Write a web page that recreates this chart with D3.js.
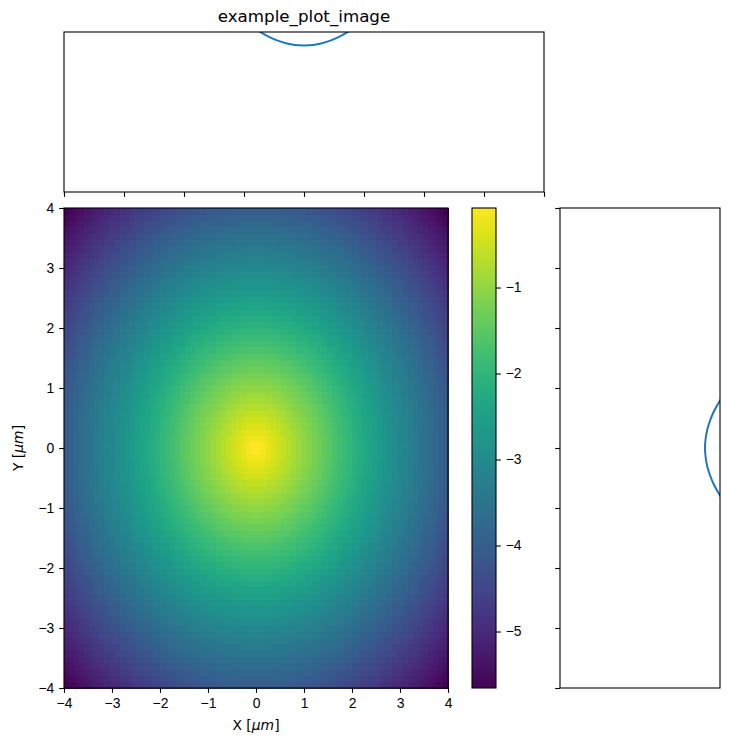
<!DOCTYPE html>
<html>
<head>
<meta charset="utf-8">
<script src="https://cdn.jsdelivr.net/npm/d3@7"></script>
<style>
  body { margin: 0; background: #fff; }
  svg { font-family: "DejaVu Sans", sans-serif; }
  .tick text { font-size: 13.9px; fill: #000; }
  .tick line { stroke: #000; stroke-width: 1.1; }
  .domain { display: none; }
</style>
</head>
<body>
<svg id="chart"></svg>
<script>
const width = 729;
const height = 745;

// image grid (value falls off like -r, about 76 cells per side)
const gridN = 76;
const extent = [-4, 4];
const slopeR = 1.0;

// axis ticks
const xTicks = [-4, -3, -2, -1, 0, 1, 2, 3, 4];
const yTicks = [-4, -3, -2, -1, 0, 1, 2, 3, 4];
const cbTicks = [-5, -4, -3, -2, -1];

// profile curves (top: along x, right: along y)
const topX = [-0.9, -0.75, -0.6, -0.45, -0.3, -0.15, 0, 0.15, 0.3, 0.45, 0.6, 0.75, 0.9];
const topV = [1.044, 1.005, 0.973, 0.948, 0.930, 0.919, 0.916, 0.919, 0.930, 0.948, 0.973, 1.005, 1.044];
const rightY = [-0.9, -0.75, -0.6, -0.45, -0.3, -0.15, 0, 0.15, 0.3, 0.45, 0.6, 0.75, 0.9];
const rightV = [1.028, 0.991, 0.960, 0.937, 0.920, 0.910, 0.906, 0.910, 0.920, 0.937, 0.960, 0.991, 1.028];

const svg = d3.select("#chart")
  .attr("width", width)
  .attr("height", height);

// panel boxes
const mainBox = { x0: 64, x1: 448, y0: 208, y1: 688 };
const topBox = { x0: 64, x1: 544, y0: 32, y1: 192 };
const sideBox = { x0: 560, x1: 720, y0: 208, y1: 688 };
const cbBox = { x0: 472, x1: 496, y0: 208, y1: 688 };

const x = d3.scaleLinear().domain(extent).range([mainBox.x0, mainBox.x1]);
const y = d3.scaleLinear().domain(extent).range([mainBox.y1, mainBox.y0]);

// build the grid
const step = (extent[1] - extent[0]) / (gridN - 1);
const cells = [];
for (let i = 0; i < gridN; i++) {
  for (let j = 0; j < gridN; j++) {
    const gx = extent[0] + i * step;
    const gy = extent[0] + j * step;
    cells.push({ i, j, v: -slopeR * Math.sqrt(gx * gx + gy * gy) });
  }
}
const vExt = d3.extent(cells, d => d.v);
const color = d3.scaleSequential(d3.interpolateViridis).domain(vExt);

const cx = d3.scaleLinear().domain([0, gridN]).range([mainBox.x0, mainBox.x1]);
const cy = d3.scaleLinear().domain([0, gridN]).range([mainBox.y1, mainBox.y0]);

svg.append("g")
  .attr("shape-rendering", "crispEdges")
  .selectAll("rect")
  .data(cells)
  .join("rect")
  .attr("x", d => cx(d.i))
  .attr("y", d => cy(d.j + 1))
  .attr("width", cx(1) - cx(0) + 0.5)
  .attr("height", cy(0) - cy(1) + 0.5)
  .attr("fill", d => color(d.v));

function frame(b) {
  svg.append("rect")
    .attr("x", b.x0).attr("y", b.y0)
    .attr("width", b.x1 - b.x0).attr("height", b.y1 - b.y0)
    .attr("fill", "none").attr("stroke", "#000").attr("stroke-width", 1.1);
}

const tl = 4.86;
const fmt = d => d < 0 ? "\u2212" + Math.abs(d) : String(d);

// main axes
svg.append("g")
  .attr("transform", `translate(0,${mainBox.y1})`)
  .call(d3.axisBottom(x).tickValues(xTicks).tickSize(tl).tickPadding(4.86).tickFormat(fmt));
svg.append("g")
  .attr("transform", `translate(${mainBox.x0},0)`)
  .call(d3.axisLeft(y).tickValues(yTicks).tickSize(tl).tickPadding(4.86).tickFormat(fmt));
frame(mainBox);

// axis labels
const xl = svg.append("text")
  .attr("x", (mainBox.x0 + mainBox.x1) / 2).attr("y", 730)
  .attr("text-anchor", "middle").attr("font-size", 13.9);
xl.append("tspan").text("X [");
xl.append("tspan").attr("font-style", "italic").text("\u03bcm");
xl.append("tspan").text("]");

const yl = svg.append("text")
  .attr("transform", `translate(23,${(mainBox.y0 + mainBox.y1) / 2}) rotate(-90)`)
  .attr("text-anchor", "middle").attr("font-size", 13.9);
yl.append("tspan").text("Y [");
yl.append("tspan").attr("font-style", "italic").text("\u03bcm");
yl.append("tspan").text("]");

// colorbar
const cbScale = d3.scaleLinear().domain(vExt).range([cbBox.y1, cbBox.y0]);
const defs = svg.append("defs");
const grad = defs.append("linearGradient")
  .attr("id", "cbgrad").attr("x1", 0).attr("x2", 0).attr("y1", 1).attr("y2", 0);
d3.range(0, 1.0001, 0.05).forEach(t => {
  grad.append("stop").attr("offset", t).attr("stop-color", d3.interpolateViridis(t));
});
svg.append("rect")
  .attr("x", cbBox.x0).attr("y", cbBox.y0)
  .attr("width", cbBox.x1 - cbBox.x0).attr("height", cbBox.y1 - cbBox.y0)
  .attr("fill", "url(#cbgrad)");
svg.append("g")
  .attr("transform", `translate(${cbBox.x1},0)`)
  .call(d3.axisRight(cbScale).tickValues(cbTicks).tickSize(tl).tickPadding(4.86).tickFormat(fmt));
frame(cbBox);

// top profile panel
const tx = d3.scaleLinear().domain(extent).range([topBox.x0, topBox.x1]);
const ty = d3.scaleLinear().domain([0, 1]).range([topBox.y1, topBox.y0]);
defs.append("clipPath").attr("id", "clipTop")
  .append("rect").attr("x", topBox.x0).attr("y", topBox.y0)
  .attr("width", topBox.x1 - topBox.x0).attr("height", topBox.y1 - topBox.y0);
svg.append("path")
  .datum(topX.map((v, i) => [v, topV[i]]))
  .attr("clip-path", "url(#clipTop)")
  .attr("fill", "none").attr("stroke", "#1f77b4").attr("stroke-width", 2)
  .attr("d", d3.line().x(d => tx(d[0])).y(d => ty(d[1])).curve(d3.curveCatmullRom));
svg.append("g")
  .attr("transform", `translate(0,${topBox.y1})`)
  .call(d3.axisBottom(tx).tickValues(xTicks).tickSize(tl).tickFormat(""));
frame(topBox);

// right profile panel
const sx = d3.scaleLinear().domain([0, 1]).range([sideBox.x0, sideBox.x1]);
const sy = d3.scaleLinear().domain(extent).range([sideBox.y1, sideBox.y0]);
defs.append("clipPath").attr("id", "clipSide")
  .append("rect").attr("x", sideBox.x0).attr("y", sideBox.y0)
  .attr("width", sideBox.x1 - sideBox.x0).attr("height", sideBox.y1 - sideBox.y0);
svg.append("path")
  .datum(rightY.map((v, i) => [rightV[i], v]))
  .attr("clip-path", "url(#clipSide)")
  .attr("fill", "none").attr("stroke", "#1f77b4").attr("stroke-width", 2)
  .attr("d", d3.line().x(d => sx(d[0])).y(d => sy(d[1])).curve(d3.curveCatmullRom));
svg.append("g")
  .attr("transform", `translate(${sideBox.x0},0)`)
  .call(d3.axisLeft(sy).tickValues(yTicks).tickSize(tl).tickFormat(""));
frame(sideBox);

// title
svg.append("text")
  .attr("x", (topBox.x0 + topBox.x1) / 2).attr("y", 22)
  .attr("text-anchor", "middle").attr("font-size", 16.7)
  .text("example_plot_image");
</script>
</body>
</html>
